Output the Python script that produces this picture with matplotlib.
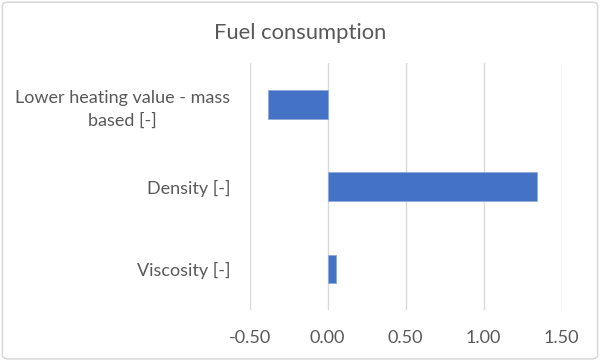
import matplotlib
matplotlib.use("Agg")
import matplotlib.pyplot as plt
from matplotlib.patches import FancyBboxPatch

categories = ["Lower heating value - mass\nbased [-]", "Density [-]", "Viscosity [-]"]
values = [-0.383, 1.344, 0.051]
xticks = [-0.5, 0.0, 0.5, 1.0, 1.5]

plt.rcParams['font.family'] = ['Lato', 'DejaVu Sans']
text_color = '#595959'

fig = plt.figure(figsize=(6.0, 3.61), dpi=100)
ax = fig.add_axes([0.416, 0.141, 0.936 - 0.416, 0.825 - 0.141])

ypos = list(range(len(categories)))[::-1]
ax.barh(ypos, values, height=0.35, color='#4472C4', edgecolor='#8FAADC', linewidth=0.6, zorder=3)

ax.set_xlim(-0.5, 1.5)
ax.set_ylim(-0.5, 2.5)
ax.set_xticks(xticks)
ax.set_xticklabels([f"{t:.2f}" for t in xticks], fontsize=13, color=text_color)
ax.set_yticks(ypos)
ax.set_yticklabels(categories, fontsize=13, color=text_color, multialignment='center', linespacing=1.55)
ax.tick_params(axis='both', length=0)
ax.tick_params(axis='y', pad=14)
ax.tick_params(axis='x', pad=14)
ax.grid(axis='x', color='#D9D9D9', linewidth=1.0, zorder=0)
for s in ax.spines.values():
    s.set_visible(False)

fig.text(0.5, 1 - 33 / 361, "Fuel consumption", ha='center', va='center', fontsize=15.8, color=text_color)

border = FancyBboxPatch((0.004, 0.006), 0.992, 0.988, boxstyle="round,pad=0,rounding_size=0.01",
                        transform=fig.transFigure, facecolor='none', edgecolor='#D9D9D9', linewidth=1.2)
fig.patches.append(border)

fig.savefig("out.png", dpi=100)
